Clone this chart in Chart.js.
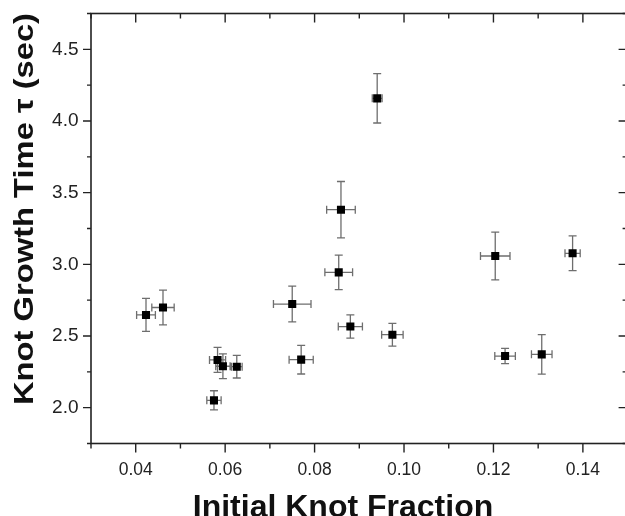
<!DOCTYPE html>
<html lang="en">
<head>
<meta charset="UTF-8">
<title>Knot Growth Time</title>
<script src="https://cdn.jsdelivr.net/npm/chart.js"></script>
<style>
    body {
        margin: 0;
        padding: 0;
        background: #fff;
        overflow: hidden;
    }
    .chart-clip {
        width: 625px;
        height: 516px;
        overflow: hidden; /* plot frame runs a little past the right edge */
    }
    .chart-box {
        position: relative;
        width: 640px;
        height: 516px;
    }
</style>
</head>
<body>
<div class="chart-clip">
    <div class="chart-box">
        <canvas id="knotChart"></canvas>
    </div>
</div>

<script>
// measured knot fraction vs growth time, with errors on both axes
const knotFraction = [0.0423, 0.0461, 0.0575, 0.0583, 0.0595, 0.0626, 0.0750, 0.0770, 0.0854, 0.0859, 0.0880, 0.0940, 0.0974, 0.1204, 0.1226, 0.1308, 0.1377];
const growthTime   = [2.647, 2.699, 2.051, 2.333, 2.289, 2.286, 2.723, 2.335, 2.944, 3.381, 2.566, 4.158, 2.509, 3.058, 2.360, 2.372, 3.077];
const fractionErr  = [0.0021, 0.0025, 0.0016, 0.0018, 0.0016, 0.0012, 0.0042, 0.0027, 0.0031, 0.0032, 0.0027, 0.0011, 0.0024, 0.0033, 0.0023, 0.0023, 0.0017];
const timeErr      = [0.115, 0.121, 0.067, 0.087, 0.086, 0.079, 0.125, 0.100, 0.120, 0.197, 0.081, 0.172, 0.079, 0.167, 0.053, 0.138, 0.121];

// axis ticks
const xTicks = [0.04, 0.06, 0.08, 0.10, 0.12, 0.14];
const xMinorTicks = [0.03, 0.05, 0.07, 0.09, 0.11, 0.13, 0.15];
const yTicks = [2.0, 2.5, 3.0, 3.5, 4.0, 4.5];
const yMinorTicks = [1.75, 2.25, 2.75, 3.25, 3.75, 4.25, 4.75];

const xTitle = 'Initial Knot Fraction';
const yTitle = 'Knot Growth Time \u03C4 (sec)';

const points = knotFraction.map((v, i) => ({ x: v, y: growthTime[i] }));

// error bars go under the markers
const errorBars = {
    id: 'errorBars',
    beforeDatasetsDraw(chart) {
        const { ctx, scales: { x, y } } = chart;
        const cap = 4;
        ctx.save();
        ctx.strokeStyle = '#6e6e6e';
        ctx.lineWidth = 1.3;
        ctx.beginPath();
        knotFraction.forEach((v, i) => {
            const px = x.getPixelForValue(v);
            const py = y.getPixelForValue(growthTime[i]);
            const x1 = x.getPixelForValue(v - fractionErr[i]);
            const x2 = x.getPixelForValue(v + fractionErr[i]);
            const y1 = y.getPixelForValue(growthTime[i] + timeErr[i]);
            const y2 = y.getPixelForValue(growthTime[i] - timeErr[i]);
            // horizontal
            ctx.moveTo(x1, py); ctx.lineTo(x2, py);
            ctx.moveTo(x1, py - cap); ctx.lineTo(x1, py + cap);
            ctx.moveTo(x2, py - cap); ctx.lineTo(x2, py + cap);
            // vertical
            ctx.moveTo(px, y1); ctx.lineTo(px, y2);
            ctx.moveTo(px - cap, y1); ctx.lineTo(px + cap, y1);
            ctx.moveTo(px - cap, y2); ctx.lineTo(px + cap, y2);
        });
        ctx.stroke();
        ctx.restore();
    }
};

// box frame with major/minor ticks, plus the axis titles
const frame = {
    id: 'frame',
    afterDraw(chart) {
        const { ctx, chartArea: a, scales: { x, y } } = chart;
        ctx.save();
        ctx.strokeStyle = '#222';
        ctx.lineWidth = 1.6;
        ctx.strokeRect(a.left, a.top, a.right - a.left, a.bottom - a.top);

        ctx.lineWidth = 1.4;
        ctx.beginPath();
        const xt = (v, big) => {
            const px = x.getPixelForValue(v);
            ctx.moveTo(px, a.bottom); ctx.lineTo(px, a.bottom + (big ? 9 : 5));
            ctx.moveTo(px, a.top); ctx.lineTo(px, a.top + (big ? 9 : 5));
        };
        const yt = (v, big) => {
            const py = y.getPixelForValue(v);
            ctx.moveTo(a.left, py); ctx.lineTo(a.left - (big ? 8 : 4), py);
            ctx.moveTo(a.right, py); ctx.lineTo(a.right - (big ? 9 : 5), py);
        };
        xTicks.forEach(v => xt(v, true));
        xMinorTicks.forEach(v => xt(v, false));
        yTicks.forEach(v => yt(v, true));
        yMinorTicks.forEach(v => yt(v, false));
        ctx.stroke();

        ctx.fillStyle = '#111';
        ctx.textAlign = 'center';
        ctx.textBaseline = 'alphabetic';
        ctx.font = 'bold 32px "Liberation Sans", Arial, sans-serif';
        ctx.fillText(xTitle, 343, 517);

        ctx.translate(32.5, 209);
        ctx.rotate(-Math.PI / 2);
        ctx.font = 'bold 28px "Liberation Sans", Arial, sans-serif';
        const w = ctx.measureText(yTitle).width;
        ctx.scale(392 / w, 1);
        ctx.fillText(yTitle, 0, 0);
        ctx.restore();
    }
};

const ctx = document.getElementById('knotChart').getContext('2d');
const knotChart = new Chart(ctx, {
    type: 'scatter',
    data: {
        datasets: [{
            label: 'Knot growth',
            data: points,
            pointStyle: 'rect',
            pointRadius: 5.7,
            pointHoverRadius: 5.7,
            backgroundColor: '#000',
            borderColor: '#000',
            borderWidth: 0
        }]
    },
    options: {
        responsive: true,
        maintainAspectRatio: false,
        animation: false,
        layout: {
            padding: { left: 0, top: 13.5, right: 12.4, bottom: 0 }
        },
        plugins: {
            legend: { display: false },
            tooltip: { enabled: false }
        },
        scales: {
            x: {
                type: 'linear',
                min: 0.03,
                max: 0.15,
                grid: { display: false, drawTicks: false },
                border: { display: false },
                afterBuildTicks: s => { s.ticks = xTicks.map(v => ({ value: v })); },
                afterFit: s => { s.height = 72.5; s.paddingLeft = 0; s.paddingRight = 0; },
                ticks: {
                    padding: 16,
                    color: '#222',
                    font: { family: '"Liberation Sans", Arial, sans-serif', size: 17.5 },
                    callback: v => v.toFixed(2)
                }
            },
            y: {
                type: 'linear',
                min: 1.75,
                max: 4.75,
                grid: { display: false, drawTicks: false },
                border: { display: false },
                afterBuildTicks: s => { s.ticks = yTicks.map(v => ({ value: v })); },
                afterFit: s => { s.width = 91; s.paddingTop = 0; s.paddingBottom = 0; },
                ticks: {
                    padding: 12.5,
                    color: '#222',
                    font: { family: '"Liberation Sans", Arial, sans-serif', size: 19 },
                    callback: v => v.toFixed(1)
                }
            }
        }
    },
    plugins: [errorBars, frame]
});
</script>
</body>
</html>
